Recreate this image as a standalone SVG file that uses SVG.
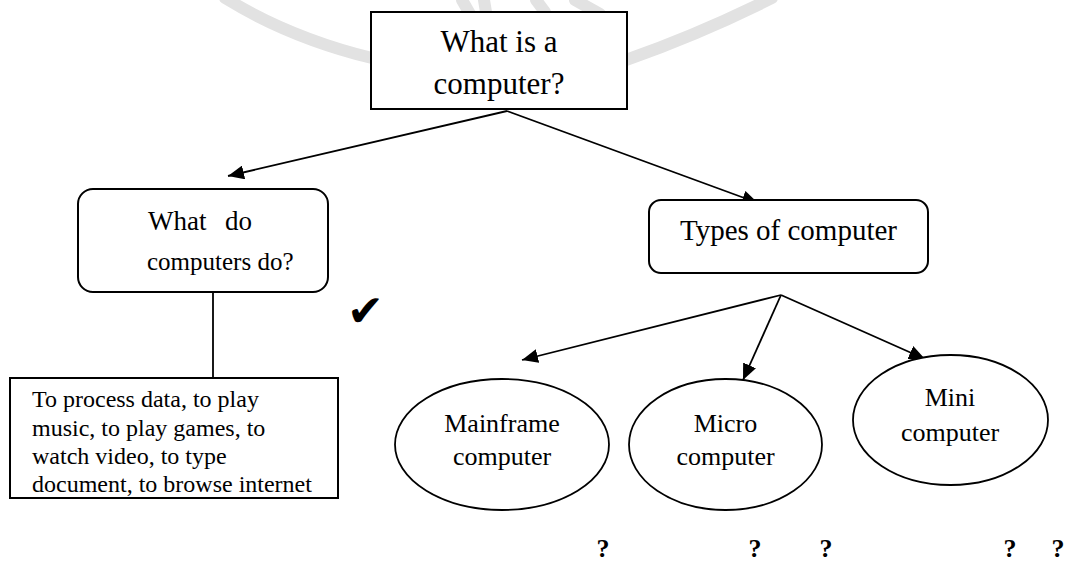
<svg xmlns="http://www.w3.org/2000/svg" width="1066" height="563" viewBox="0 0 1066 563">
<style>
.box{fill:#fff;stroke:#000;stroke-width:2}
.ell{fill:#fff;stroke:#000;stroke-width:1.8}
.t{font-family:"Liberation Serif","Times New Roman",serif;fill:#000}
.c{text-anchor:middle}
.edge{stroke:#000;stroke-width:1.8;fill:none}
.arr{marker-end:url(#ah)}
.wm{fill:none;stroke:#e2e2e2;stroke-width:12;stroke-linecap:round}
.q{font-family:"Liberation Serif","Times New Roman",serif;font-weight:bold;font-size:26px;text-anchor:middle}
</style>
<defs>
<marker id="ah" markerUnits="userSpaceOnUse" markerWidth="18" markerHeight="14" refX="16" refY="7" orient="auto">
<path d="M0,0 L16,7 L0,14 Z" fill="#000"/>
</marker>
</defs>
<rect width="1066" height="563" fill="#fff"/>
<g id="watermark">
<path class="wm" d="M225,-2 Q290,38 372,58"/>
<path class="wm" d="M626,60 Q700,34 772,-2"/>
<path class="wm" d="M462,0 L470,14 M484,0 L486,12"/>
<path class="wm" d="M536,0 L545,12 M575,0 L600,14"/>
</g>
<g id="connectors">
<line class="edge arr" x1="507" y1="111" x2="228" y2="176"/>
<line class="edge arr" x1="507" y1="111" x2="758" y2="203"/>
<line class="edge" x1="213" y1="292" x2="213" y2="380"/>
<line class="edge arr" x1="781" y1="295" x2="522" y2="360"/>
<line class="edge arr" x1="781" y1="295" x2="743" y2="380"/>
<line class="edge arr" x1="781" y1="295" x2="925" y2="359"/>
</g>
<g id="what-is-computer">
<rect class="box" x="371" y="12" width="256" height="97"/>
<text class="t c" x="499" y="52" font-size="31">What is a</text>
<text class="t c" x="499" y="94" font-size="31">computer?</text>
</g>
<g id="what-do-computers-do">
<rect class="box" x="78" y="189" width="250" height="103" rx="15"/>
<text class="t" y="230" font-size="27"><tspan x="148">What</tspan> <tspan x="225">do</tspan></text>
<text class="t" x="147" y="270" font-size="25">computers do?</text>
</g>
<g id="types-of-computer">
<rect class="box" x="649" y="200" width="279" height="73" rx="12"/>
<text class="t c" x="788.5" y="240" font-size="29">Types of computer</text>
</g>
<g id="uses">
<rect class="box" x="10" y="378" width="328" height="120"/>
<text class="t" x="32" y="407" font-size="24">To process data, to play</text>
<text class="t" x="32" y="436" font-size="24">music, to play games, to</text>
<text class="t" x="32" y="464" font-size="24">watch video, to type</text>
<text class="t" x="32" y="492" font-size="24">document, to browse internet</text>
</g>
<g id="check">
<text x="347" y="326" font-family="DejaVu Sans, sans-serif" font-size="44">✔</text>
</g>
<g id="mainframe">
<ellipse class="ell" cx="502" cy="444.5" rx="107" ry="65.5"/>
<text class="t c" x="502" y="432" font-size="26">Mainframe</text>
<text class="t c" x="502" y="465" font-size="26">computer</text>
</g>
<g id="micro">
<ellipse class="ell" cx="725.5" cy="444.5" rx="96.5" ry="65.5"/>
<text class="t c" x="725.5" y="432" font-size="26">Micro</text>
<text class="t c" x="725.5" y="465" font-size="26">computer</text>
</g>
<g id="mini">
<ellipse class="ell" cx="950.5" cy="420" rx="97.5" ry="65"/>
<text class="t c" x="950" y="406" font-size="26">Mini</text>
<text class="t c" x="950" y="441" font-size="26">computer</text>
</g>
<g id="question-marks">
<text class="q" x="603" y="557">?</text>
<text class="q" x="755" y="557">?</text>
<text class="q" x="826" y="557">?</text>
<text class="q" x="1010" y="557">?</text>
<text class="q" x="1058" y="557">?</text>
</g>
</svg>
